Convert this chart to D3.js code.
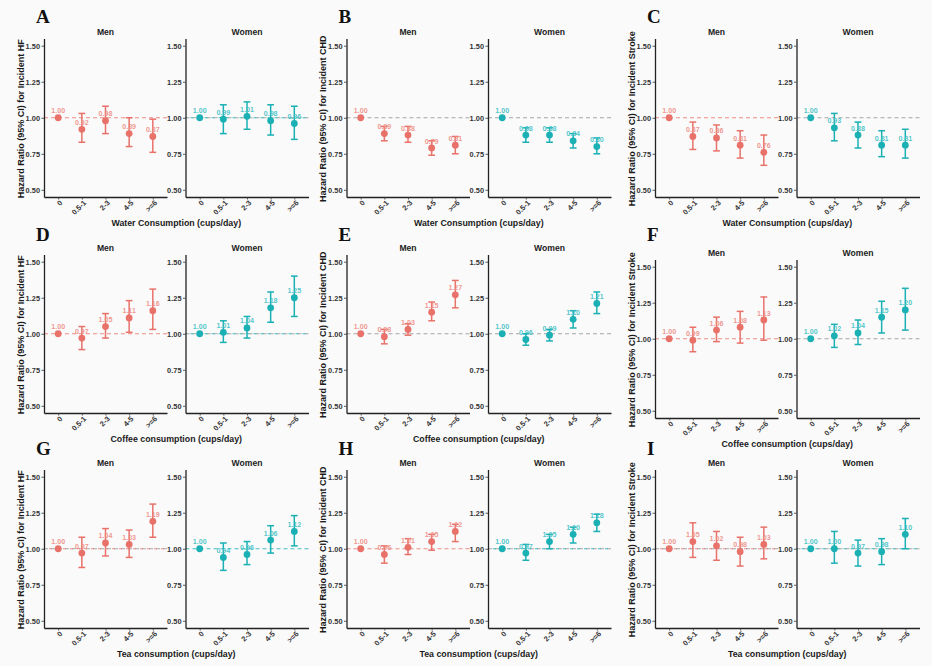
<!DOCTYPE html>
<html><head><meta charset="utf-8">
<script src="https://cdn.jsdelivr.net/npm/d3@7"></script>
<style>
html,body{margin:0;padding:0;background:#fafafa;}
svg{display:block;font-family:"Liberation Sans",Arial,sans-serif;}
</style></head>
<body><svg id="chart" width="932" height="666"></svg>
<script>
// ---------- DATA ----------
const categories = ["0", "0.5-1", "2-3", "4-5", ">=6"];
const yTicks = [0.5, 0.75, 1.0, 1.25, 1.5];
const sexes = ["Men", "Women"];
const panelLetters = ["A","B","C","D","E","F","G","H","I"];
const outcomes = ["HF","CHD","Stroke"];
const exposures = ["Water Consumption (cups/day)", "Coffee consumption (cups/day)", "Tea consumption (cups/day)"];

// hazard ratios per panel (A..I), per category
const hrMen = [
  [1.00,0.92,0.98,0.89,0.87],
  [1.00,0.89,0.88,0.79,0.81],
  [1.00,0.87,0.86,0.81,0.76],
  [1.00,0.97,1.05,1.11,1.16],
  [1.00,0.98,1.03,1.15,1.27],
  [1.00,0.99,1.06,1.08,1.13],
  [1.00,0.97,1.04,1.03,1.19],
  [1.00,0.96,1.01,1.05,1.12],
  [1.00,1.05,1.02,0.98,1.03]
];
const lowMen = [
  [1.00,0.83,0.89,0.80,0.76],
  [1.00,0.84,0.83,0.74,0.75],
  [1.00,0.78,0.77,0.72,0.67],
  [1.00,0.89,0.97,1.01,1.03],
  [1.00,0.93,0.99,1.09,1.18],
  [1.00,0.91,0.98,0.97,0.99],
  [1.00,0.87,0.95,0.94,1.08],
  [1.00,0.90,0.96,0.99,1.05],
  [1.00,0.94,0.92,0.88,0.93]
];
const highMen = [
  [1.00,1.03,1.08,1.00,0.99],
  [1.00,0.94,0.94,0.84,0.87],
  [1.00,0.97,0.95,0.91,0.88],
  [1.00,1.05,1.14,1.23,1.31],
  [1.00,1.03,1.07,1.22,1.37],
  [1.00,1.08,1.15,1.19,1.29],
  [1.00,1.08,1.14,1.13,1.31],
  [1.00,1.02,1.07,1.10,1.17],
  [1.00,1.18,1.12,1.08,1.15]
];
const hrWomen = [
  [1.00,0.99,1.01,0.98,0.96],
  [1.00,0.88,0.88,0.84,0.80],
  [1.00,0.93,0.88,0.81,0.81],
  [1.00,1.01,1.04,1.18,1.25],
  [1.00,0.96,0.99,1.10,1.21],
  [1.00,1.02,1.04,1.15,1.20],
  [1.00,0.94,0.96,1.06,1.12],
  [1.00,0.97,1.05,1.10,1.18],
  [1.00,1.00,0.97,0.98,1.10]
];
const lowWomen = [
  [1.00,0.89,0.92,0.88,0.85],
  [1.00,0.83,0.83,0.79,0.75],
  [1.00,0.84,0.79,0.73,0.72],
  [1.00,0.94,0.97,1.08,1.12],
  [1.00,0.92,0.95,1.04,1.14],
  [1.00,0.94,0.96,1.04,1.06],
  [1.00,0.85,0.89,0.97,1.02],
  [1.00,0.92,1.00,1.04,1.12],
  [1.00,0.90,0.88,0.89,1.00]
];
const highWomen = [
  [1.00,1.09,1.11,1.09,1.08],
  [1.00,0.93,0.93,0.89,0.86],
  [1.00,1.03,0.97,0.91,0.92],
  [1.00,1.09,1.12,1.29,1.40],
  [1.00,1.00,1.03,1.16,1.29],
  [1.00,1.10,1.13,1.26,1.35],
  [1.00,1.04,1.05,1.16,1.23],
  [1.00,1.03,1.10,1.15,1.24],
  [1.00,1.12,1.06,1.07,1.21]
];

// ---------- LAYOUT / STYLE ----------
const colX = [44, 346.5, 655];
const panelTop = [38.5,38.5,38.5, 254.5,254.5,259.5, 469.5,469.5,469.5];
const letterBase = [23,23,23, 241,241,241, 455,455,455];
const refStyle = ["cm","gg","cg","cm","gg","cg","mc","cm","mm"];
const plotW = 123, plotH = 158.5, womenOffset = 141.5;
const colors = {Men: "#e8726a", Women: "#1ab0b4"};
const labelColors = {Men: "#ef8c84", Women: "#3ec1c5"};
const greyDash = "#a6a6a6";

const svg = d3.select("#chart");
svg.append("rect").attr("width",932).attr("height",666).attr("fill","#fafafa");

const x = d3.scalePoint().domain(categories).range([0, plotW]).padding(0.6);

panelLetters.forEach((letter, p) => {
  const row = Math.floor(p/3), col = p%3;
  const ax = colX[col], top = panelTop[p];
  const y = d3.scaleLinear().domain([0.45, 1.55]).range([plotH, 0]);

  const g = svg.append("g").attr("transform", `translate(0,${top})`);

  // panel letter
  svg.append("text").text(letter)
    .attr("x", ax - 8).attr("y", letterBase[p])
    .attr("font-family", "'Liberation Serif','Times New Roman',serif")
    .attr("font-weight", "bold").attr("font-size", 19).attr("fill", "#111");

  // y title
  g.append("text")
    .text(`Hazard Ratio (95% CI) for Incident ${outcomes[col]}`)
    .attr("transform", `translate(${ax - 20.5},${plotH/2 + 1}) rotate(-90)`)
    .attr("text-anchor", "middle")
    .attr("font-weight", "bold").attr("font-size", 9).attr("fill", "#1a1a1a");

  // x title
  g.append("text").text(exposures[row])
    .attr("x", ax + (womenOffset + plotW)/2).attr("y", plotH + 28.5)
    .attr("text-anchor", "middle")
    .attr("font-weight", "bold").attr("font-size", 8.8).attr("fill", "#1a1a1a");

  sexes.forEach((sex, s) => {
    const hr = s === 0 ? hrMen[p] : hrWomen[p];
    const lo = s === 0 ? lowMen[p] : lowWomen[p];
    const hi = s === 0 ? highMen[p] : highWomen[p];
    const sx = ax + s*womenOffset;
    const sg = g.append("g").attr("transform", `translate(${sx},0)`);
    const col_ = colors[sex];

    // strip label
    sg.append("text").text(sex)
      .attr("x", plotW/2).attr("y", -3.8)
      .attr("text-anchor", "middle")
      .attr("font-weight", "bold").attr("font-size", 8.6).attr("fill", "#222");

    // reference line
    const st = refStyle[p][s];
    const y1 = y(1);
    if (st === "g" || st === "m") {
      sg.append("line").attr("x1",0).attr("x2",plotW).attr("y1",y1).attr("y2",y1)
        .attr("stroke", greyDash).attr("stroke-width",1)
        .attr("stroke-dasharray", "4,3");
    }
    if (st === "c" || st === "m") {
      sg.append("line").attr("x1",0).attr("x2",plotW).attr("y1",y1).attr("y2",y1)
        .attr("stroke", col_).attr("stroke-opacity",0.8).attr("stroke-width",1)
        .attr("stroke-dasharray", st === "m" ? "3,4" : "4,3")
        .attr("stroke-dashoffset", st === "m" ? 2 : 0);
    }

    // axes
    const yAxis = d3.axisLeft(y).tickValues(yTicks).tickFormat(d3.format(".2f"))
      .tickSize(2.5).tickSizeOuter(0).tickPadding(1.5);
    const ya = sg.append("g").call(yAxis);
    const xAxis = d3.axisBottom(x).tickSize(2.5).tickSizeOuter(0).tickPadding(2);
    const xa = sg.append("g").attr("transform", `translate(0,${plotH})`).call(xAxis);
    [ya, xa].forEach(a => {
      a.select(".domain").attr("stroke", "#222").attr("stroke-width", 1.3);
      a.selectAll(".tick line").attr("stroke", "#333").attr("stroke-width", 0.8);
      a.selectAll(".tick text").attr("font-family", "'Liberation Sans',Arial,sans-serif")
        .attr("font-weight", "bold").attr("font-size", 7.4).attr("fill", "#333");
    });
    xa.selectAll(".tick text")
      .attr("text-anchor", "end").attr("dy", "0.35em").attr("y", 0)
      .attr("transform", "translate(2.5,4.5) rotate(-45)");

    // error bars
    categories.forEach((c, i) => {
      const cx = x(c);
      if (lo[i] !== hi[i]) {
        sg.append("line").attr("x1",cx).attr("x2",cx).attr("y1",y(lo[i])).attr("y2",y(hi[i]))
          .attr("stroke", col_).attr("stroke-width", 1.5);
        [lo[i], hi[i]].forEach(v => {
          sg.append("line").attr("x1",cx-3.4).attr("x2",cx+3.4).attr("y1",y(v)).attr("y2",y(v))
            .attr("stroke", col_).attr("stroke-width", 1.5);
        });
      }
      sg.append("circle").attr("cx",cx).attr("cy",y(hr[i])).attr("r",3.4).attr("fill",col_);
      sg.append("text").text(hr[i].toFixed(2))
        .attr("x", cx).attr("y", y(hr[i]) - 4.5)
        .attr("text-anchor","middle")
        .attr("font-weight","bold").attr("font-size",7.1)
        .attr("fill", labelColors[sex]).attr("fill-opacity",0.9);
    });
  });
});
</script></body></html>
